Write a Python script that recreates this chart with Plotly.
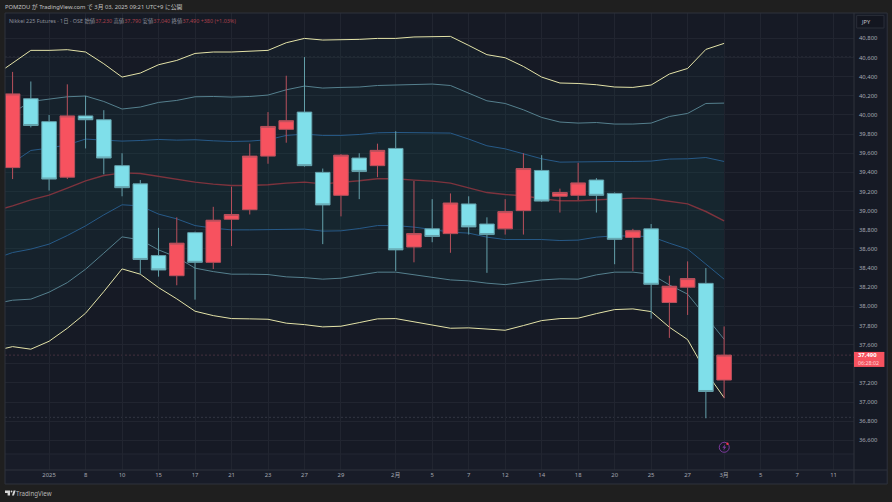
import plotly.graph_objs as go

# 日足 (index 0 = 先頭のローソク足)
candle_x = list(range(40))
opens = [39450, 40170, 39930, 39350, 39990, 39950, 39470, 39280, 38530, 38320,
         38770, 38460, 38910, 39010, 39570, 39850, 40030, 39400, 39160, 39550,
         39470, 39650, 38620, 38810, 38760, 39070, 38860, 38810, 39000, 39420,
         39150, 39160, 39320, 39180, 38720, 38810, 38040, 38200, 38240, 37230]
highs = [40450, 40350, 40000, 40320, 40200, 40050, 39600, 39320, 38820, 38930,
         38780, 39040, 39250, 39700, 40030, 40410, 40605, 39440, 39590, 39600,
         39700, 39830, 39310, 39120, 39180, 39150, 38930, 39120, 39600, 39580,
         39230, 39500, 39340, 39190, 38810, 38860, 38320, 38470, 38400, 37790]
lows = [39330, 39870, 39210, 39330, 39650, 39380, 39150, 38340, 38310, 38220,
        38070, 38390, 38630, 38960, 39490, 39710, 39460, 38650, 38940, 39120,
        39350, 38370, 38460, 38670, 38560, 38750, 38350, 38750, 38750, 39090,
        38980, 39110, 38980, 38440, 38370, 37870, 37670, 37910, 36830, 37040]
closes = [40220, 39890, 39330, 39990, 39950, 39550, 39240, 38490, 38380, 38660,
          38460, 38900, 38960, 39570, 39880, 39940, 39470, 39060, 39580, 39410,
          39630, 38590, 38760, 38730, 39080, 38830, 38750, 38990, 39440, 39100,
          39190, 39290, 39160, 38700, 38790, 38230, 38210, 38290, 37110, 37490]

# ボリンジャーバンド (index -1 から)
band_x = list(range(-1, 40))
upper3 = [40410, 40546, 40675, 40675, 40682, 40658, 40535, 40396, 40438, 40525, 40570,
          40643, 40658, 40658, 40664, 40675, 40755, 40800, 40783, 40786, 40790, 40800,
          40800, 40815, 40821, 40821, 40727, 40630, 40598, 40507, 40396, 40334, 40329,
          40316, 40292, 40288, 40313, 40428, 40486, 40685, 40748]
upper2 = [39929, 40023, 40141, 40166, 40190, 40198, 40141, 40062, 40083, 40131, 40152,
          40190, 40193, 40187, 40193, 40208, 40263, 40302, 40281, 40288, 40292, 40308,
          40313, 40316, 40323, 40308, 40229, 40148, 40120, 40054, 39974, 39926, 39915,
          39921, 39905, 39905, 39915, 39984, 40016, 40120, 40124]
upper1 = [39406, 39500, 39629, 39654, 39688, 39748, 39737, 39727, 39733, 39744, 39737,
          39741, 39730, 39723, 39727, 39741, 39786, 39800, 39786, 39786, 39796, 39814,
          39817, 39817, 39817, 39811, 39748, 39678, 39646, 39594, 39542, 39507, 39510,
          39518, 39514, 39514, 39518, 39539, 39542, 39555, 39514]
basis = [38998, 39050, 39113, 39162, 39235, 39312, 39367, 39395, 39388, 39357, 39330,
         39298, 39277, 39263, 39263, 39270, 39288, 39298, 39280, 39294, 39312, 39333,
         39333, 39319, 39309, 39288, 39235, 39189, 39169, 39155, 39124, 39103, 39103,
         39113, 39127, 39131, 39124, 39100, 39071, 38991, 38894]
lower1 = [38496, 38562, 38598, 38650, 38740, 38841, 38956, 39061, 39050, 38964, 38914,
          38844, 38817, 38799, 38799, 38803, 38807, 38807, 38786, 38789, 38813, 38844,
          38844, 38828, 38803, 38775, 38765, 38723, 38698, 38698, 38698, 38688, 38692,
          38723, 38737, 38734, 38729, 38660, 38598, 38441, 38284]
lower2 = [38026, 38064, 38075, 38148, 38248, 38388, 38556, 38726, 38695, 38590, 38514,
          38399, 38363, 38336, 38336, 38332, 38308, 38300, 38284, 38294, 38326, 38357,
          38357, 38329, 38300, 38276, 38266, 38242, 38227, 38248, 38276, 38287, 38284,
          38329, 38357, 38357, 38336, 38224, 38127, 37893, 37656]
lower3 = [37534, 37579, 37552, 37635, 37771, 37928, 38154, 38391, 38336, 38196, 38078,
          37949, 37903, 37872, 37869, 37865, 37824, 37809, 37785, 37792, 37830, 37869,
          37872, 37840, 37806, 37771, 37775, 37764, 37750, 37799, 37851, 37872, 37876,
          37924, 37966, 37973, 37945, 37782, 37652, 37314, 37046]

price_ticks = list(range(36600, 41000, 200))
price_labels = [f"{p:,}" for p in price_ticks]
time_ticks = [2, 4, 6, 8, 10, 12, 14, 16, 18, 21, 23, 25, 27, 29, 31, 33, 35, 37, 39, 41, 43, 45]
time_labels = ["2025", "8", "10", "15", "17", "21", "23", "27", "29", "2月", "5", "7",
               "12", "14", "18", "20", "25", "27", "3月", "5", "7", "11"]
chart_high = 40605
chart_low = 36840
last_price = 37490

W, H = 892, 502
LEFT, RIGHT, TOP, BOTTOM = 5, 854.3, 13.3, 470
X_RANGE = [-0.416, 46.12]
Y_RANGE = [36289.5, 41065.6]
FONT = "Noto Sans, Noto Sans CJK JP, sans-serif"

OUTER = "#1f1f1f"
PANE = "#161a25"
GRID = "#212530"
BORDER = "#2e323d"
RED = "#f7525f"
CYAN = "#7fdfea"


def px(x):
    return (x - LEFT) / (RIGHT - LEFT)


def py(y):
    return (BOTTOM - y) / (BOTTOM - TOP)


def rect(x0, y0, x1, y1, fill, line=None, layer="above"):
    return dict(type="rect", xref="paper", yref="paper", x0=px(x0), x1=px(x1), y0=py(y1), y1=py(y0),
                fillcolor=fill, line=dict(color=line or fill, width=1 if line else 0), layer=layer)


def hline(y0, y1, x0, x1, color, layer="above"):
    return dict(type="line", xref="paper", yref="paper", x0=px(x0), x1=px(x1), y0=py(y0), y1=py(y1),
                line=dict(color=color, width=1), layer=layer)


def poly(points, fill):
    d = "M" + " L".join(f"{px(x):.5f},{py(y):.5f}" for x, y in points) + " Z"
    return dict(type="path", xref="paper", yref="paper", path=d, fillcolor=fill, line=dict(width=0))


def label(x, y, text, color, size=5.9, anchor="left", bold=False):
    if bold:
        text = f"<b>{text}</b>"
    return dict(xref="paper", yref="paper", x=px(x), y=py(y), text=text, showarrow=False,
                xanchor=anchor, yanchor="middle", font=dict(family=FONT, size=size, color=color),
                borderpad=0, borderwidth=0)


def band(values, color, width, fill=None, fillcolor=None):
    return go.Scatter(x=band_x, y=values, mode="lines", line=dict(color=color, width=width),
                      fill=fill, fillcolor=fillcolor, hoverinfo="skip", showlegend=False)


BAND_FILL = "rgba(28,92,95,0.08)"

fig = go.Figure()
fig.add_trace(band(upper3, "#e4e3a8", 1))
fig.add_trace(band(lower3, "#e4e3a8", 1, "tonexty", BAND_FILL))
fig.add_trace(band(upper2, "#55808e", 1))
fig.add_trace(band(lower2, "#55808e", 1, "tonexty", BAND_FILL))
fig.add_trace(band(upper1, "#275a88", 1))
fig.add_trace(band(lower1, "#275a88", 1, "tonexty", BAND_FILL))
fig.add_trace(band(basis, "#7d333d", 1.4))

# 線より手前に描くので別の軸に載せる
fig.add_trace(go.Candlestick(
    x=candle_x, open=opens, high=highs, low=lows, close=closes,
    xaxis="x2", yaxis="y2", whiskerwidth=0,
    increasing=dict(fillcolor=RED, line=dict(color="#b8505c", width=1)),
    decreasing=dict(fillcolor=CYAN, line=dict(color="#64a0ab", width=1)),
    showlegend=False,
))

shapes = [
    rect(RIGHT, TOP, 887.5, BOTTOM, PANE, layer="below"),
    rect(LEFT, 454, RIGHT, BOTTOM, "#181c28", layer="between"),
    rect(LEFT, BOTTOM, 887.5, 484, "#181c28", layer="below"),
    hline(TOP, TOP, LEFT, 887.5, BORDER),
    hline(454, 454, LEFT, RIGHT, "#242834", "between"),
    hline(BOTTOM, BOTTOM, LEFT, 887.5, BORDER),
    hline(484, 484, LEFT, 887.5, BORDER),
    hline(TOP, 484, LEFT, LEFT, BORDER),
    hline(TOP, 484, RIGHT, RIGHT, BORDER),
    hline(TOP, 484, 887.5, 887.5, BORDER),
    rect(857, 15.7, 884.3, 28.3, "#131620", "#2a2e39"),
    rect(RIGHT, 352, 884.7, 367, RED),
    # 稲妻アイコン
    dict(type="circle", xref="paper", yref="paper", x0=px(719.5), x1=px(729.5), y0=py(452.3), y1=py(442.3),
         line=dict(color="#7d3a9e", width=1)),
    poly([(725.5, 444.2), (722.6, 447.8), (724.3, 447.8), (723.6, 450.4), (726.5, 446.7), (724.8, 446.7)], "#7d3a9e"),
    dict(type="circle", xref="paper", yref="paper", x0=px(726.5), x1=px(728.9), y0=py(444.9), y1=py(442.5),
         fillcolor="#f23645", line=dict(width=0)),
    # TradingView ロゴ
    poly([(5, 490.5), (10, 490.5), (10, 495.5), (7.6, 495.5), (7.6, 493), (5, 493)], "#d6d6d6"),
    poly([(12, 495.5), (13.6, 490.5), (15.6, 490.5), (14, 495.5)], "#d6d6d6"),
    dict(type="circle", xref="paper", yref="paper", x0=px(10.6), x1=px(12.4), y0=py(492.4), y1=py(490.6),
         fillcolor="#d6d6d6", line=dict(width=0)),
]
for value, color in ((chart_high, "rgba(120,123,135,0.3)"), (chart_low, "rgba(120,123,135,0.3)"),
                     (last_price, "rgba(180,100,115,0.3)")):
    shapes.append(dict(type="line", xref="paper", yref="y", x0=0, x1=1, y0=value, y1=value,
                       line=dict(color=color, width=1, dash="2px,2px"), layer="between"))

VAL = "#a8404c"
legend_text = (
    "Nikkei 225 Futures · 1日 · OSE 始値"
    f"<span style='color:{VAL}'>37,230</span> 高値<span style='color:{VAL}'>37,790</span>"
    f" 安値<span style='color:{VAL}'>37,040</span> 終値<span style='color:{VAL}'>37,490</span>"
    f" <span style='color:{VAL}'>+380 (+1.03%)</span>"
)

annotations = [
    label(5, 7.5, "POMZOU が TradingView.com で 3月 03, 2025 09:21 UTC+9 に公開", "#c4c4c4", 5.8),
    label(9, 20.8, legend_text, "#8b8f9a", 5.4),
    label(861, 22.3, "JPY", "#c4c7cf", 5.6),
    label(858.5, 355, "37,490", "#ffffff", 5.9, bold=True),
    label(858.5, 363, "06:28:02", "#ffd5d8", 5.3),
    label(16.5, 493, "TradingView", "#b5b5b5", 6.2),
]

fig.update_layout(
    width=W, height=H,
    margin=dict(l=LEFT, r=W - RIGHT, t=TOP, b=H - BOTTOM, autoexpand=False),
    paper_bgcolor=OUTER, plot_bgcolor=PANE,
    boxgap=0.2, boxgroupgap=0,
    showlegend=False,
    shapes=shapes,
    annotations=annotations,
    xaxis=dict(range=X_RANGE, tickmode="array", tickvals=time_ticks, ticktext=time_labels,
               showgrid=True, gridcolor=GRID, gridwidth=1, zeroline=False, showline=False, ticks="",
               tickfont=dict(family=FONT, size=5.9, color="#a5a8b2"), rangeslider=dict(visible=False)),
    yaxis=dict(range=Y_RANGE, side="right", tickmode="array", tickvals=price_ticks, ticktext=price_labels,
               showgrid=True, gridcolor=GRID, gridwidth=1, zeroline=False, showline=False, ticks="",
               ticklabelstandoff=4, tickfont=dict(family=FONT, size=5.9, color="#a5a8b2")),
    xaxis2=dict(range=X_RANGE, overlaying="x", visible=False, rangeslider=dict(visible=False)),
    yaxis2=dict(range=Y_RANGE, overlaying="y", side="right", visible=False),
)

fig.write_html("out.html", config=dict(displayModeBar=False),
               post_script="document.body.style.margin='0';document.body.style.overflow='hidden';")
